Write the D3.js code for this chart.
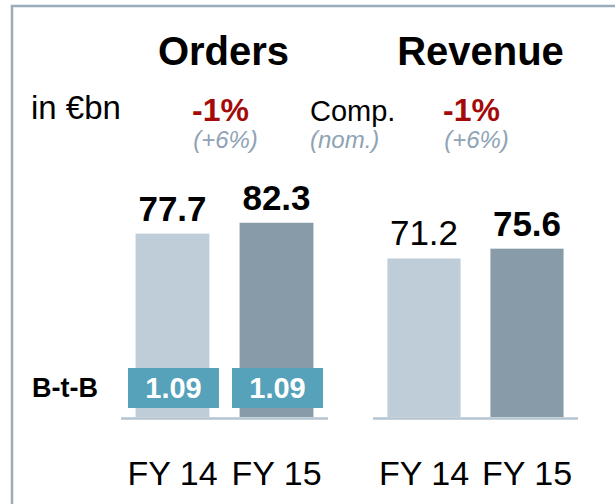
<!DOCTYPE html>
<html>
<head>
<meta charset="utf-8">
<script src="https://d3js.org/d3.v7.min.js"></script>
<style>
  body { margin: 0; background: #fff; }
  text { font-family: "Liberation Sans", Arial, sans-serif; }
</style>
</head>
<body>
<script>
// data
var categories = ["FY 14", "FY 15"];
var orders = [77.7, 82.3];
var revenue = [71.2, 75.6];
var bookToBill = [1.09, 1.09];
var panelTitles = ["Orders", "Revenue"];
var compGrowth = ["-1%", "-1%"];
var nomGrowth = ["(+6%)", "(+6%)"];

var width = 615, height = 504;
var baseY = 417;

var svg = d3.select("body").append("svg")
    .attr("width", width)
    .attr("height", height);

// frame: top and left edges only
svg.append("path")
    .attr("d", "M12,504 L12,6 L615,6")
    .attr("fill", "none")
    .attr("stroke", "#9aabba")
    .attr("stroke-width", 2.5);

// one panel per measure, each with its own scales
var panels = [
    { title: panelTitles[0], values: orders, range: [121, 328], yMax: 100, bold: [true, true], comp: compGrowth[0], nom: nomGrowth[0], btb: bookToBill },
    { title: panelTitles[1], values: revenue, range: [373, 578], yMax: 106, bold: [false, true], comp: compGrowth[1], nom: nomGrowth[1], btb: null }
];
var barColors = ["#bfcdd8", "#889ba9"];

panels.forEach(function (p) {
    var x = d3.scaleBand()
        .domain(categories)
        .range(p.range)
        .paddingInner(0.29)
        .paddingOuter(0.14);

    var y = d3.scaleLinear()
        .domain([0, p.yMax])
        .range([baseY, baseY - 236]);

    var cx = (p.range[0] + p.range[1]) / 2;
    var g = svg.append("g");

    // bars
    g.selectAll("rect.bar")
        .data(p.values)
        .enter().append("rect")
        .attr("class", "bar")
        .attr("x", function (d, i) { return x(categories[i]); })
        .attr("y", function (d) { return y(d); })
        .attr("width", x.bandwidth())
        .attr("height", function (d) { return y(0) - y(d); })
        .attr("fill", function (d, i) { return barColors[i]; });

    // value labels
    g.selectAll("text.val")
        .data(p.values)
        .enter().append("text")
        .attr("class", "val")
        .attr("x", function (d, i) { return x(categories[i]) + x.bandwidth() / 2; })
        .attr("y", function (d) { return y(d) - 13; })
        .attr("text-anchor", "middle")
        .style("font-size", "35px")
        .style("font-weight", function (d, i) { return p.bold[i] ? "bold" : "normal"; })
        .text(function (d) { return d.toFixed(1); });

    // baseline
    g.append("line")
        .attr("x1", p.range[0]).attr("x2", p.range[1])
        .attr("y1", baseY + 1.5).attr("y2", baseY + 1.5)
        .attr("stroke", "#b4c4d0")
        .attr("stroke-width", 2.5);

    // category axis, no line or ticks
    var axis = g.append("g")
        .attr("transform", "translate(0," + (baseY + 68) + ")")
        .call(d3.axisBottom(x).tickSize(0).tickPadding(0));
    axis.select(".domain").remove();
    axis.selectAll("text")
        .attr("dy", 0)
        .attr("fill", "#000")
        .style("font-size", "34px");

    // title
    g.append("text")
        .attr("x", cx + (p.btb ? -1 : 5))
        .attr("y", 65)
        .attr("text-anchor", "middle")
        .style("font-size", "40px")
        .style("font-weight", "bold")
        .text(p.title);

    // growth
    g.append("text")
        .attr("x", cx - 4)
        .attr("y", 121)
        .attr("text-anchor", "middle")
        .attr("fill", "#a50a0a")
        .style("font-size", "32px")
        .style("font-weight", "bold")
        .text(p.comp);

    g.append("text")
        .attr("x", cx + 1)
        .attr("y", 148)
        .attr("text-anchor", "middle")
        .attr("fill", "#8fa3b5")
        .style("font-size", "24px")
        .style("font-style", "italic")
        .text(p.nom);

    // book-to-bill boxes
    if (p.btb) {
        var bw = 91, bh = 40;
        var box = g.selectAll("g.btb")
            .data(p.btb)
            .enter().append("g")
            .attr("class", "btb")
            .attr("transform", function (d, i) {
                return "translate(" + (x(categories[i]) + x.bandwidth() / 2 + 1) + "," + 388 + ")";
            });
        box.append("rect")
            .attr("x", -bw / 2).attr("y", -bh / 2)
            .attr("width", bw).attr("height", bh)
            .attr("fill", "#55a2ba");
        box.append("text")
            .attr("y", 10)
            .attr("text-anchor", "middle")
            .attr("fill", "#fff")
            .style("font-size", "29px")
            .style("font-weight", "bold")
            .text(function (d) { return d.toFixed(2); });
    }
});

// left side labels
svg.append("text")
    .attr("x", 31)
    .attr("y", 119)
    .style("font-size", "33px")
    .text("in €bn");

svg.append("text")
    .attr("x", 310)
    .attr("y", 121)
    .style("font-size", "29px")
    .text("Comp.");

svg.append("text")
    .attr("x", 310)
    .attr("y", 148)
    .attr("fill", "#8fa3b5")
    .style("font-size", "24px")
    .style("font-style", "italic")
    .text("(nom.)");

svg.append("text")
    .attr("x", 32)
    .attr("y", 397)
    .style("font-size", "27px")
    .style("font-weight", "bold")
    .text("B-t-B");
</script>
</body>
</html>
